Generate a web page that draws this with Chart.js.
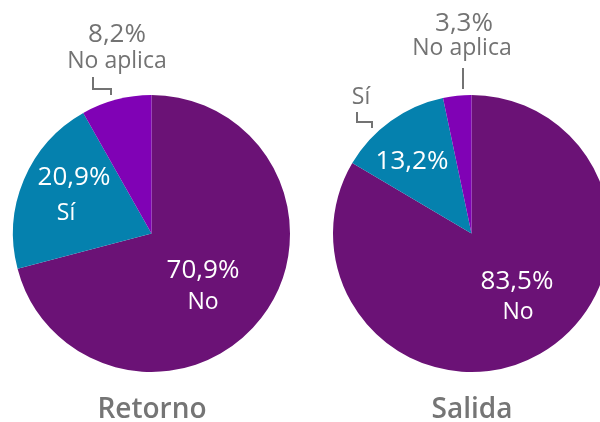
<!DOCTYPE html>
<html>
<head>
<meta charset="utf-8">
<script src="https://cdn.jsdelivr.net/npm/chart.js@4.4.0/dist/chart.umd.min.js"></script>
<style>
  html, body { margin: 0; padding: 0; background: #fff; overflow: hidden; }
  #wrap { position: relative; width: 600px; height: 422px; overflow: hidden; }
  #c1 { position: absolute; left: 0; top: 0; }
  #c2 { position: absolute; left: 300px; top: 0; }
</style>
</head>
<body>
<div id="wrap">
  <canvas id="c1" width="300" height="422"></canvas>
  <canvas id="c2" width="320" height="422"></canvas>
</div>
<script>
// ---- data ----
const categories = ['No', 'Sí', 'No aplica'];
const retornoValues = [70.9, 20.9, 8.2];
const salidaValues = [83.5, 13.2, 3.3];
const chartTitles = ['Retorno', 'Salida'];
const sliceColors = ['#6B1276', '#0581AE', '#8002B5'];

const FONT = '"Open Sans", "Noto Sans", sans-serif';
const fmt = v => v.toFixed(1).replace('.', ',') + '%';

// label layout offsets relative to pie centre (text baseline positions)
const layoutRetorno = {
  labels: [
    { i: 0, color: '#fff', pct: [51.5, 44.5], name: [51.5, 75.5] },
    { i: 1, color: '#fff', pct: [-77.5, -49], name: [-85.5, -13.5] },
    { i: 2, color: '#737373', pct: [-34.5, -192], name: [-34.5, -166],
      leader: [[-58.5, -156.5], [-58.5, -144.5], [-40.5, -144.5], [-40.5, -138.5]] }
  ],
  title: [0.5, 184.5]
};
const layoutSalida = {
  labels: [
    { i: 0, color: '#fff', pct: [45.5, 55.5], name: [46.5, 85.5] },
    { i: 1, color: '#fff', pct: [-59.5, -64.5], name: null, nameOut: [-110.5, -129.5],
      leader: [[-114.5, -121.5], [-114.5, -111.5], [-99.5, -111.5], [-99.5, -105.5]] },
    { i: 2, color: '#737373', pct: [-7.5, -203], name: [-9.5, -178.5],
      leader: [[-8.5, -165.5], [-8.5, -144.5]] }
  ],
  title: [0.5, 184.5]
};

const labelPlugin = {
  id: 'sliceLabels',
  afterDraw(chart, args, opts) {
    const ctx = chart.ctx;
    const meta = chart.getDatasetMeta(0);
    const arc = meta.data[0];
    const cx = arc.x, cy = arc.y;
    const values = chart.data.datasets[0].data;
    const L = opts.layout;
    const pctFont = '500 26px ' + FONT;
    const nameFont = '500 23px ' + FONT;
    ctx.save();
    ctx.textAlign = 'center';
    ctx.textBaseline = 'alphabetic';
    L.labels.forEach(lb => {
      ctx.fillStyle = lb.color;
      ctx.font = pctFont;
      ctx.fillText(fmt(values[lb.i]), cx + lb.pct[0], cy + lb.pct[1]);
      ctx.font = nameFont;
      if (lb.name) ctx.fillText(chart.data.labels[lb.i], cx + lb.name[0], cy + lb.name[1]);
      if (lb.nameOut) {
        ctx.fillStyle = '#737373';
        ctx.fillText(chart.data.labels[lb.i], cx + lb.nameOut[0], cy + lb.nameOut[1]);
      }
      if (lb.leader) {
        ctx.strokeStyle = '#737373';
        ctx.lineWidth = 2;
        ctx.beginPath();
        lb.leader.forEach((p, k) => {
          if (k === 0) ctx.moveTo(cx + p[0], cy + p[1]);
          else ctx.lineTo(cx + p[0], cy + p[1]);
        });
        ctx.stroke();
      }
    });
    ctx.fillStyle = '#757575';
    ctx.font = '600 28px ' + FONT;
    ctx.fillText(opts.title, cx + L.title[0], cy + L.title[1]);
    ctx.restore();
  }
};

function makePie(id, values, title, layout, padding) {
  return new Chart(document.getElementById(id), {
    type: 'pie',
    data: {
      labels: categories,
      datasets: [{ data: values, backgroundColor: sliceColors, borderWidth: 0 }]
    },
    options: {
      responsive: false,
      animation: false,
      devicePixelRatio: 1,
      layout: { padding: padding },
      plugins: {
        legend: { display: false },
        tooltip: { enabled: false },
        sliceLabels: { layout: layout, title: title }
      }
    },
    plugins: [labelPlugin]
  });
}

makePie('c1', retornoValues, chartTitles[0], layoutRetorno, { left: 13, right: 10, top: 95, bottom: 50 });
makePie('c2', salidaValues, chartTitles[1], layoutSalida, { left: 33, right: 10, top: 95, bottom: 50 });
</script>
</body>
</html>
